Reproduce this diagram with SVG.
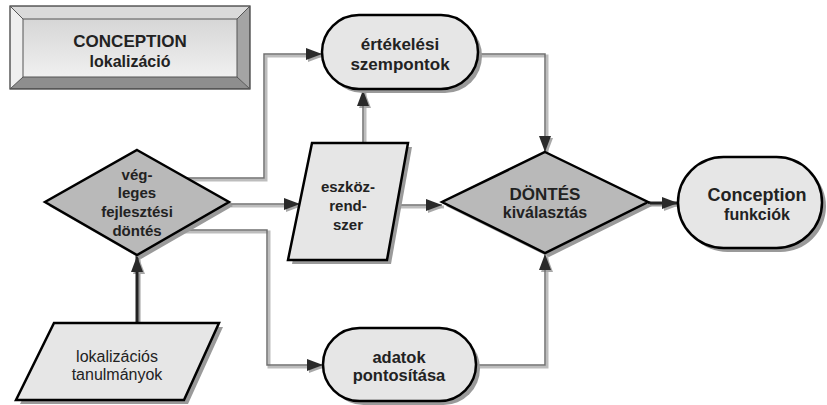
<svg xmlns="http://www.w3.org/2000/svg" width="827" height="405" viewBox="0 0 827 405">
<style>
.sh{fill:#9a9a9a;stroke:none}
.lt{fill:#e6e6e6;stroke:#000;stroke-width:2.5;stroke-linejoin:miter}
.dk{fill:#b9b9b9;stroke:#000;stroke-width:2.5;stroke-linejoin:miter}
text{font-family:"Liberation Sans",Arial,sans-serif;fill:#222;text-anchor:middle}
.b{font-weight:bold}
.cl{fill:none;stroke:#707070;stroke-width:1.5}
.cls{fill:none;stroke:#bdbdbd;stroke-width:3}
.cd{fill:none;stroke:#222;stroke-width:3}
.cds{fill:none;stroke:#9c9c9c;stroke-width:3}
</style>
<defs>
<marker id="ah" markerUnits="userSpaceOnUse" markerWidth="18" markerHeight="14" refX="16" refY="6" orient="auto" overflow="visible">
<path d="M0,0 L16,6 L0,12 z" fill="#2a2a2a"/>
</marker>
<marker id="ahs" markerUnits="userSpaceOnUse" markerWidth="18" markerHeight="14" refX="16" refY="6" orient="auto" overflow="visible">
<path d="M0,0 L16,6 L0,12 z" fill="#a8a8a8"/>
</marker>
<linearGradient id="face" x1="0" y1="0" x2="0" y2="1">
<stop offset="0" stop-color="#d6d6d6"/>
<stop offset="1" stop-color="#f0f0f0"/>
</linearGradient>
</defs>
<rect width="827" height="405" fill="#fff"/>

<g id="title">
<polygon points="10,6 250,6 237,19 23,19" fill="#dadada"/>
<polygon points="10,6 23,19 23,77 10,89" fill="#efefef"/>
<polygon points="250,6 250,89 237,77 237,19" fill="#a4a4a4"/>
<polygon points="10,89 23,77 237,77 250,89" fill="#8e8e8e"/>
<rect x="23" y="19" width="214" height="58" fill="url(#face)"/>
<rect x="10" y="6" width="240" height="83" fill="none" stroke="#333" stroke-width="1.2"/>
<rect x="23" y="19" width="214" height="58" fill="none" stroke="#555" stroke-width="1"/>
<path d="M10,6 L23,19 M250,6 L237,19 M10,89 L23,77 M250,89 L237,77" stroke="#555" stroke-width="1"/>
<text x="130" y="47" class="b" font-size="17">CONCEPTION</text>
<text x="130" y="67" class="b" font-size="16">lokalizáció</text>
</g>

<g id="connectors">
<g transform="translate(2,2)">
<path class="cls" d="M186,178 H264 V54 H322" marker-end="url(#ahs)"/>
<path class="cls" d="M478,54 H545 V152" marker-end="url(#ahs)"/>
<path class="cls" d="M229,204 H300" marker-end="url(#ahs)"/>
<path class="cls" d="M363,143 V90" marker-end="url(#ahs)"/>
<path class="cls" d="M397,205 H442" marker-end="url(#ahs)"/>
<path class="cls" d="M181,230 H267 V365 H323" marker-end="url(#ahs)"/>
<path class="cls" d="M476,365 H545 V254" marker-end="url(#ahs)"/>
<path class="cds" d="M137,323 V256" marker-end="url(#ahs)"/>
<path class="cds" d="M648,203 H678" marker-end="url(#ahs)"/>
</g>
<path class="cl" d="M186,178 H264 V54 H322" marker-end="url(#ah)"/>
<path class="cl" d="M478,54 H545 V152" marker-end="url(#ah)"/>
<path class="cl" d="M229,204 H300" marker-end="url(#ah)"/>
<path class="cl" d="M363,143 V90" marker-end="url(#ah)"/>
<path class="cl" d="M397,205 H442" marker-end="url(#ah)"/>
<path class="cl" d="M181,230 H267 V365 H323" marker-end="url(#ah)"/>
<path class="cl" d="M476,365 H545 V254" marker-end="url(#ah)"/>
<path class="cd" d="M137,323 V256" marker-end="url(#ah)"/>
<path class="cd" d="M648,203 H678" marker-end="url(#ah)"/>
</g>

<g id="ertekelesi">
<rect class="sh" x="326" y="19" width="156" height="74" rx="37"/>
<rect class="lt" x="322" y="15" width="156" height="74" rx="37"/>
<text x="400" y="50" class="b" font-size="17">értékelési</text>
<text x="400" y="70" class="b" font-size="17">szempontok</text>
</g>

<g id="vegleges">
<polygon class="sh" points="141,154 233,206 141,259 49,206"/>
<polygon class="dk" points="137,150 229,202 137,255 45,202"/>
<text x="137" y="180" class="b" font-size="15">vég-</text>
<text x="137" y="198" class="b" font-size="15">leges</text>
<text x="137" y="217" class="b" font-size="15">fejlesztési</text>
<text x="137" y="236" class="b" font-size="15">döntés</text>
</g>

<g id="eszkoz">
<polygon class="sh" points="316,147 412,147 391,264 292,264"/>
<polygon class="lt" points="312,143 408,143 387,260 288,260"/>
<text x="348" y="192" class="b" font-size="15">eszköz-</text>
<text x="348" y="211" class="b" font-size="15">rend-</text>
<text x="348" y="230" class="b" font-size="15">szer</text>
</g>

<g id="dontes">
<polygon class="sh" points="549,156 652,206 549,257 446,206"/>
<polygon class="dk" points="545,152 648,202 545,253 442,202"/>
<text x="545" y="200" class="b" font-size="17">DÖNTÉS</text>
<text x="545" y="218" class="b" font-size="16">kiválasztás</text>
</g>

<g id="conception">
<rect class="sh" x="682" y="161" width="144" height="91" rx="45.5"/>
<rect class="lt" x="678" y="157" width="144" height="91" rx="45.5"/>
<text x="757" y="201" class="b" font-size="18">Conception</text>
<text x="757" y="220" class="b" font-size="16">funkciók</text>
</g>

<g id="lokalizacios">
<polygon class="sh" points="58,327 223,327 188,404 20,404"/>
<polygon class="lt" points="54,323 219,323 184,400 16,400"/>
<text x="117" y="362" font-size="16">lokalizációs</text>
<text x="117" y="380" font-size="16">tanulmányok</text>
</g>

<g id="adatok">
<rect class="sh" x="327" y="332" width="153" height="73" rx="36.5"/>
<rect class="lt" x="323" y="328" width="153" height="73" rx="36.5"/>
<text x="399" y="363" class="b" font-size="16.5">adatok</text>
<text x="399" y="381" class="b" font-size="16.5">pontosítása</text>
</g>
</svg>
